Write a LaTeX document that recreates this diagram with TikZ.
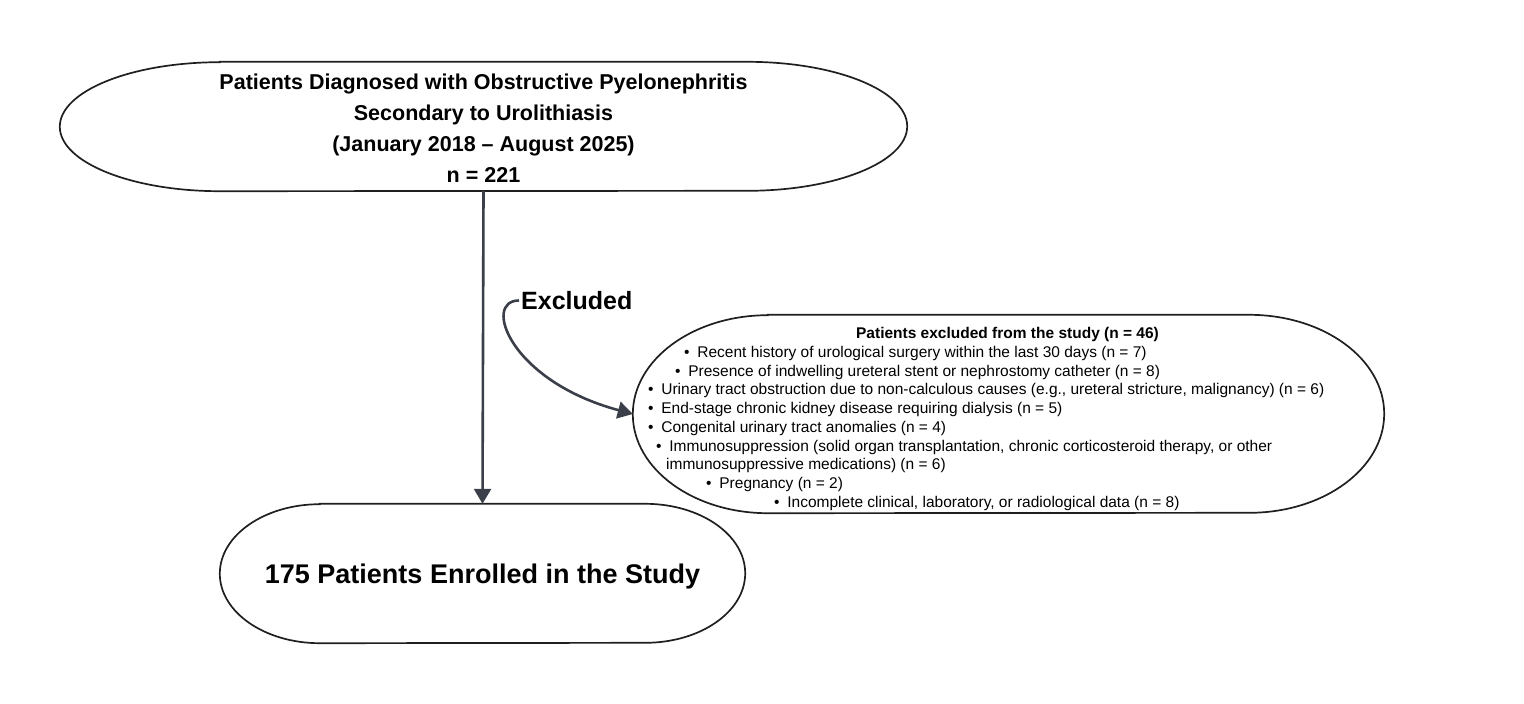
\documentclass[tikz,border=0pt]{standalone}
\usepackage{fontspec}
\setmainfont{Liberation Sans}
\usetikzlibrary{arrows.meta}
\definecolor{arrowgrey}{HTML}{3B3F4A}
\tikzstyle{box}=[draw=none,inner sep=0pt,align=center]
\tikzstyle{ovalline}=[draw=black!88,line width=1.7pt]
\tikzstyle{flow}=[draw=arrowgrey,line width=2.6pt,-{Triangle[width=17pt,length=15pt]}]
\tikzstyle{item}=[anchor=base west,inner sep=0pt,font=\fontsize{15.5}{18}\selectfont]
\newcommand{\ovaloutline}[3]{\draw[ovalline] ([xshift=#2]#1.north west) -- ([xshift=-#2]#1.north east)
  arc[start angle=90,end angle=-90,x radius=#2,y radius=#3] -- ([xshift=#2]#1.south west)
  arc[start angle=270,end angle=90,x radius=#2,y radius=#3] -- cycle;}
\newcommand{\bul}{•\hspace{0.5em}}

\begin{document}
\begin{tikzpicture}[x=1pt,y=1pt]
  \useasboundingbox (0,0) rectangle (1524,-704);
  \node[box,minimum width=847pt,minimum height=129pt] (source) at (483.5,-126.5) {};
  \node[box,font=\bfseries\fontsize{21.5}{31}\selectfont] (sourcetext) at (483.5,-128.5)
    {Patients Diagnosed with Obstructive Pyelonephritis\\Secondary to Urolithiasis\\(January 2018 – August 2025)\\n = 221};
  \node[box,minimum width=525pt,minimum height=139pt] (enrolled) at (482.5,-573.5) {};
  \node[box,font=\bfseries\fontsize{27}{31}\selectfont] (enrolledtext) at (482.5,-576.5) {175 Patients Enrolled in the Study};
  \node[box,minimum width=751pt,minimum height=198pt] (excluded) at (1008.5,-414) {};
  \node[anchor=west,inner sep=2pt,font=\bfseries\fontsize{25}{29}\selectfont] (exlabel) at (519,-300.5) {Excluded};
  \ovaloutline{source}{160pt}{64.5pt}
  \ovaloutline{enrolled}{100pt}{69.5pt}
  \ovaloutline{excluded}{135pt}{99pt}

  \node[item,anchor=base,font=\bfseries\fontsize{15.5}{18}\selectfont] (ex0) at (1007.5,-338.5) {Patients excluded from the study (n = 46)};
  \node[item] (ex1) at (684,-357.5) {\bul Recent history of urological surgery within the last 30 days (n = 7)};
  \node[item] (ex2) at (675,-376) {\bul Presence of indwelling ureteral stent or nephrostomy catheter (n = 8)};
  \node[item] (ex3) at (648,-394.5) {\bul Urinary tract obstruction due to non-calculous causes (e.g., ureteral stricture, malignancy) (n = 6)};
  \node[item] (ex4) at (648,-413.5) {\bul End-stage chronic kidney disease requiring dialysis (n = 5)};
  \node[item] (ex5) at (648,-432) {\bul Congenital urinary tract anomalies (n = 4)};
  \node[item] (ex6) at (656,-451) {\bul Immunosuppression (solid organ transplantation, chronic corticosteroid therapy, or other};
  \node[item] (ex7) at (666,-469.5) {immunosuppressive medications) (n = 6)};
  \node[item] (ex8) at (706,-488) {\bul Pregnancy (n = 2)};
  \node[item] (ex9) at (774,-507) {\bul Incomplete clinical, laboratory, or radiological data (n = 8)};

  \draw[flow] (source.south) -- (enrolled.north);
  \draw[flow] (exlabel.west) .. controls +(-37,0) and +(-123,33) .. (excluded.west);
\end{tikzpicture}
\end{document}
